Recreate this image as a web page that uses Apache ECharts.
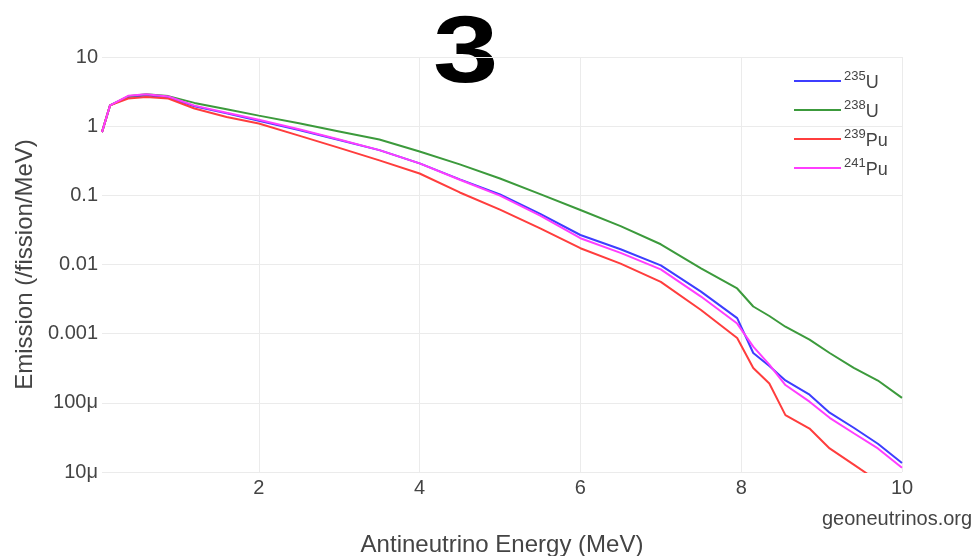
<!DOCTYPE html>
<html>
<head>
<meta charset="utf-8">
<script src="https://cdn.jsdelivr.net/npm/echarts@6/dist/echarts.min.js"></script>
<style>
html,body{margin:0;padding:0;background:#fff;}
#chart{width:973px;height:556px;}
</style>
</head>
<body>
<div id="chart"></div>
<script>
// Antineutrino energy (MeV)
var energy = [0.05, 0.15, 0.375, 0.6, 0.875, 1.2, 1.6, 2.0, 2.5, 3.0, 3.5, 4.0, 4.5, 5.0, 5.5, 6.0, 6.5, 7.0, 7.5, 7.95, 8.15, 8.35, 8.55, 8.85, 9.1, 9.4, 9.7, 10.0];
// Emission (/fission/MeV)
var u235  = [0.82, 2.0, 2.65, 2.77, 2.62, 1.94, 1.53, 1.2, 0.88, 0.63, 0.45, 0.29, 0.17, 0.103, 0.054, 0.0267, 0.0166, 0.0097, 0.00406, 0.00168, 0.000525, 0.00034, 0.000211, 0.000131, 7.2e-5, 4.36e-5, 2.56e-5, 1.35e-5];
var u238  = [0.82, 2.0, 2.7, 2.9, 2.72, 2.17, 1.76, 1.42, 1.1, 0.84, 0.64, 0.43, 0.28, 0.175, 0.104, 0.0614, 0.0358, 0.0196, 0.0088, 0.0045, 0.00247, 0.0018, 0.00126, 0.00082, 0.000525, 0.00032, 0.00021, 0.000118];
var pu239 = [0.82, 2.0, 2.51, 2.65, 2.51, 1.80, 1.36, 1.09, 0.73, 0.485, 0.32, 0.207, 0.11, 0.062, 0.0332, 0.0172, 0.0103, 0.0056, 0.0022, 0.000865, 0.000319, 0.00019, 6.65e-5, 4.25e-5, 2.19e-5, 1.28e-5, 7.4e-6, 4e-6];
var pu241 = [0.82, 2.0, 2.75, 2.9, 2.68, 1.98, 1.56, 1.24, 0.9, 0.64, 0.45, 0.29, 0.168, 0.099, 0.051, 0.024, 0.0147, 0.0085, 0.00344, 0.0014, 0.00065, 0.000356, 0.000181, 0.000104, 6.07e-5, 3.63e-5, 2.19e-5, 1.15e-5];

var xTicks = [2, 4, 6, 8, 10];
var yTickLabels = {'1':'10','0':'1','-1':'0.1','-2':'0.01','-3':'0.001','-4':'100μ','-5':'10μ'};
var seriesNames = ['235U', '238U', '239Pu', '241Pu'];
var seriesSup = {'235U':['235','U'], '238U':['238','U'], '239Pu':['239','Pu'], '241Pu':['241','Pu']};
var seriesColors = ['#3d3dff', '#3c9a3c', '#ff3d3d', '#ff3dff'];
var seriesValues = [u235, u238, pu239, pu241];

function pairs(vals){
  var out = [];
  for (var i = 0; i < energy.length; i++) out.push([energy[i], vals[i]]);
  return out;
}

var FONT = 'Liberation Sans, Arial, sans-serif';
var chart = echarts.init(document.getElementById('chart'), null, {renderer:'canvas'});
var option = {
  backgroundColor: '#fff',
  animation: false,
  grid: {left: 102, right: 71, top: 57, bottom: 84, containLabel: false, outerBoundsMode: 'none'},
  xAxis: {
    type: 'value',
    min: 0.05, max: 10,
    axisLine: {show: false},
    axisTick: {show: false, customValues: xTicks},
    axisLabel: {customValues: xTicks, color: '#444', fontSize: 20, fontFamily: FONT, margin: 6},
    splitLine: {show: true, lineStyle: {color: '#ebebeb', width: 1}},
    name: 'Antineutrino Energy (MeV)',
    nameLocation: 'middle',
    nameGap: 61,
    nameTextStyle: {color: '#444', fontSize: 24, fontFamily: FONT}
  },
  yAxis: {
    type: 'log',
    logBase: 10,
    min: 1e-5, max: 10,
    axisLine: {show: false},
    axisTick: {show: false},
    axisLabel: {
      color: '#444', fontSize: 20, fontFamily: FONT, margin: 4,
      formatter: function(v){ var k = Math.round(Math.log10(v)); return yTickLabels[String(k)] || ''; }
    },
    splitLine: {show: true, lineStyle: {color: '#ebebeb', width: 1}},
    name: 'Emission (/fission/MeV)',
    nameLocation: 'middle',
    nameGap: 63,
    nameTextStyle: {color: '#444', fontSize: 24, fontFamily: FONT}
  },
  legend: {
    orient: 'vertical',
    left: 789, top: 65,
    icon: 'rect',
    itemWidth: 47, itemHeight: 2, itemGap: 7,
    data: seriesNames,
    formatter: function(name){ var p = seriesSup[name]; return '{sup|' + p[0] + '}{b|' + p[1] + '}'; },
    textStyle: {
      color: '#444', fontFamily: FONT, padding: [0, 0, 0, -2],
      rich: {
        sup: {fontSize: 13, fontFamily: FONT, color: '#444', lineHeight: 13, verticalAlign: 'top'},
        b: {fontSize: 18, fontFamily: FONT, color: '#444', lineHeight: 22, verticalAlign: 'bottom'}
      }
    }
  },
  graphic: [
    {type: 'text', x: 433, y: 9, scaleX: 1.25, style: {text: '3', fontSize: 94, fontWeight: 'bold', fontFamily: FONT, fill: '#000'}},
    {type: 'text', left: 822, top: 509, style: {text: 'geoneutrinos.org', fontSize: 20, fontFamily: FONT, fill: '#444'}}
  ],
  series: seriesNames.map(function(n, i){
    return {
      name: n, type: 'line', data: pairs(seriesValues[i]),
      showSymbol: false, symbol: 'none', clip: true,
      lineStyle: {color: seriesColors[i], width: 2},
      itemStyle: {color: seriesColors[i]}
    };
  })
};
chart.setOption(option);
</script>
</body>
</html>
